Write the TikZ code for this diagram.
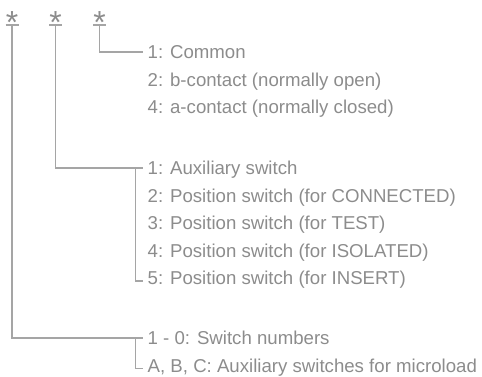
\documentclass[tikz,border=0pt]{standalone}
\usepackage{fontspec}
\setmainfont{Liberation Sans}
\definecolor{txt}{RGB}{140,140,140}
\definecolor{ln}{RGB}{165,165,165}
\begin{document}
\begin{tikzpicture}[x=1bp,y=-1bp,
  lbl/.style={anchor=base west,inner sep=0,text=txt,font=\fontsize{18.7}{22}\selectfont},
  star/.style={anchor=base,inner sep=0,text=txt,font=\fontsize{32}{32}\selectfont},
  wire/.style={draw=ln,line width=1.1bp}]
\useasboundingbox (0,0) rectangle (482,376);
% asterisks
\node[star] (s1) at (12,33) {*};
\node[star] (s2) at (55.5,33) {*};
\node[star] (s3) at (99.5,33) {*};
\coordinate (t1) at (12,25);
\coordinate (t2) at (55.5,25);
\coordinate (t3) at (99.5,25);
\foreach \t in {t1,t2,t3} {\draw[wire] ([xshift=-6.5bp]\t) -- ([xshift=6.5bp]\t);}
% group 1
\node[lbl] (g1a) at (147.5,58.7) {1: Common};
\node[lbl] (g1b) at (147.5,86.2) {2: b-contact (normally open)};
\node[lbl] (g1c) at (147.5,113.7) {4: a-contact (normally closed)};
\coordinate (e1) at (143,52);
\draw[wire] (t3) |- (e1);
% group 2
\node[lbl] (g2a) at (147.5,174.7) {1: Auxiliary switch};
\node[lbl] (g2b) at (147.5,202.2) {2: Position switch (for CONNECTED)};
\node[lbl] (g2c) at (147.5,229.7) {3: Position switch (for TEST)};
\node[lbl] (g2d) at (147.5,257.2) {4: Position switch (for ISOLATED)};
\node[lbl] (g2e) at (147.5,284.7) {5: Position switch (for INSERT)};
\coordinate (e2) at (143,168);
\coordinate (b2t) at (135.5,168);
\coordinate (b2e) at (143,281);
\draw[wire] (t2) |- (e2);
\draw[wire] (b2t) |- (b2e);
% group 3
\node[lbl] (g3a) at (147.5,344.7) {1 - 0: Switch numbers};
\node[lbl] (g3b) at (147.5,372.2) {A, B, C: Auxiliary switches for microload};
\coordinate (e3) at (143,338);
\coordinate (b3t) at (135.5,338);
\coordinate (b3e) at (143,368.5);
\draw[wire] (t1) |- (e3);
\draw[wire] (b3t) |- (b3e);
\end{tikzpicture}
\end{document}
